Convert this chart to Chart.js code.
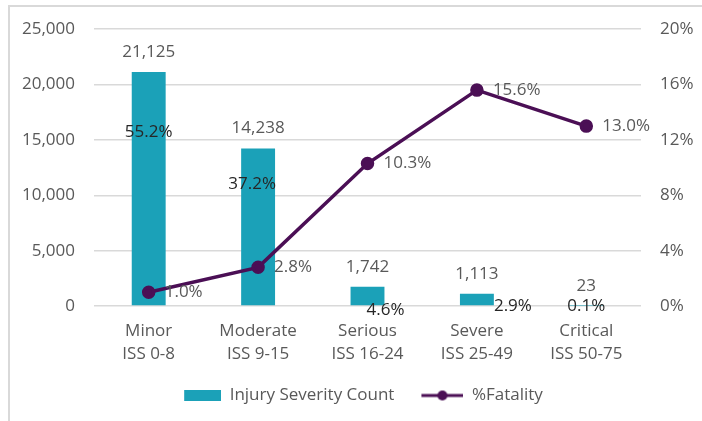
<!DOCTYPE html>
<html>
<head>
<meta charset="utf-8">
<script src="https://cdn.jsdelivr.net/npm/chart.js@4.4.1/dist/chart.umd.min.js"></script>
<style>
  html, body { margin: 0; padding: 0; background: #fff; overflow: hidden; }
  #marco { position: absolute; left: 8px; top: 5px; width: 730px; height: 450px; border: 2px solid #d9d9d9; box-sizing: border-box; }
  #caja { position: absolute; left: 0; top: 0; width: 702px; height: 421px; }
</style>
</head>
<body>
<div id="marco"></div>
<div id="caja"><canvas id="grafico"></canvas></div>
<script>
// Datos
const categorias = [['Minor', 'ISS 0-8'], ['Moderate', 'ISS 9-15'], ['Serious', 'ISS 16-24'], ['Severe', 'ISS 25-49'], ['Critical', 'ISS 50-75']];
const conteo = [21125, 14238, 1742, 1113, 23];
const fatalidad = [1.0, 2.8, 10.3, 15.6, 13.0];
const porcentaje = [55.2, 37.2, 4.6, 2.9, 0.1];

// donde van las etiquetas de porcentaje (valor en eje izq. y desplazamiento x)
const anclaPorc = [15740, 10970, -360, 0, 0];
const dxPorc = [0, -6, 18, 36, 0];

const TEAL = '#1ba1b8';
const MORADO = '#4b0f55';
const GRIS = '#595959';
const FUENTE = "'Open Sans', sans-serif";
const ANCHO_ICONO = 62; // incluye hueco transparente a la izquierda

// iconos de la leyenda
function iconoBarra() {
  const c = document.createElement('canvas');
  c.width = ANCHO_ICONO; c.height = 11;
  const g = c.getContext('2d');
  g.fillStyle = TEAL;
  g.fillRect(ANCHO_ICONO - 37, 0, 37, 11);
  return c;
}
function iconoLinea() {
  const c = document.createElement('canvas');
  c.width = ANCHO_ICONO; c.height = 12;
  const g = c.getContext('2d');
  const x0 = ANCHO_ICONO - 42;
  g.strokeStyle = MORADO;
  g.lineWidth = 3;
  g.beginPath(); g.moveTo(x0, 6); g.lineTo(ANCHO_ICONO, 6); g.stroke();
  g.fillStyle = MORADO;
  g.beginPath(); g.arc(x0 + 21, 6, 5, 0, Math.PI * 2); g.fill();
  return c;
}

const etiquetas = {
  id: 'etiquetas',
  afterDatasetsDraw(chart) {
    const ctx = chart.ctx;
    const x = chart.scales.x, y = chart.scales.y, y2 = chart.scales.y2;
    ctx.save();
    ctx.font = '17px ' + FUENTE;
    ctx.textBaseline = 'middle';
    // valores de las barras
    ctx.fillStyle = GRIS;
    ctx.textAlign = 'center';
    conteo.forEach((v, i) => {
      ctx.fillText(v.toLocaleString('en-US'), x.getPixelForValue(i), y.getPixelForValue(v) - 20);
    });
    // porcentaje de cada categoría
    ctx.fillStyle = '#262626';
    porcentaje.forEach((v, i) => {
      ctx.fillText(v.toFixed(1) + '%', x.getPixelForValue(i) + dxPorc[i], y.getPixelForValue(anclaPorc[i]));
    });
    // % de fatalidad
    ctx.fillStyle = GRIS;
    ctx.textAlign = 'left';
    fatalidad.forEach((v, i) => {
      ctx.fillText(v.toFixed(1) + '%', x.getPixelForValue(i) + 16, y2.getPixelForValue(v));
    });
    ctx.restore();
  }
};

const ctx = document.getElementById('grafico').getContext('2d');
Chart.defaults.font.family = FUENTE;
Chart.defaults.color = GRIS;

new Chart(ctx, {
  data: {
    labels: categorias,
    datasets: [
      {
        type: 'line',
        label: '%Fatality',
        data: fatalidad,
        yAxisID: 'y2',
        borderColor: MORADO,
        backgroundColor: MORADO,
        borderWidth: 3.5,
        pointRadius: 5,
        pointHoverRadius: 5,
        tension: 0,
        order: 0
      },
      {
        type: 'bar',
        label: 'Injury Severity Count',
        data: conteo,
        yAxisID: 'y',
        backgroundColor: TEAL,
        barPercentage: 0.31,
        categoryPercentage: 1,
        order: 1
      }
    ]
  },
  options: {
    responsive: true,
    maintainAspectRatio: false,
    animation: false,
    layout: { padding: { top: 14, bottom: 7, left: 0, right: 0 } },
    scales: {
      x: {
        grid: { display: false, drawTicks: false },
        border: { display: false },
        ticks: { font: { size: 17, lineHeight: 1.35 }, color: GRIS, padding: 14, maxRotation: 0 }
      },
      y: {
        position: 'left',
        min: 0, max: 25000,
        ticks: { stepSize: 5000, font: { size: 17 }, color: GRIS, padding: 19,
          callback: v => v.toLocaleString('en-US') },
        grid: { color: '#d9d9d9', lineWidth: 1.5, drawTicks: false },
        border: { display: false },
        afterFit(s) { s.width = 94; }
      },
      y2: {
        position: 'right',
        min: 0, max: 20,
        ticks: { stepSize: 4, font: { size: 17 }, color: GRIS, padding: 19,
          callback: v => v + '%' },
        grid: { display: false, drawTicks: false },
        border: { display: false },
        afterFit(s) { s.width = 61; }
      }
    },
    plugins: {
      tooltip: { enabled: false },
      legend: {
        position: 'bottom',
        labels: {
          usePointStyle: true,
          pointStyleWidth: ANCHO_ICONO,
          padding: 7,
          font: { size: 17 },
          color: GRIS,
          generateLabels(chart) {
            return [
              { text: 'Injury Severity Count', pointStyle: iconoBarra(), fillStyle: TEAL, strokeStyle: TEAL, lineWidth: 0, datasetIndex: 1, fontColor: GRIS },
              { text: '%Fatality', pointStyle: iconoLinea(), fillStyle: MORADO, strokeStyle: MORADO, lineWidth: 0, datasetIndex: 0, fontColor: GRIS }
            ];
          }
        }
      }
    }
  },
  plugins: [etiquetas]
});
</script>
</body>
</html>
